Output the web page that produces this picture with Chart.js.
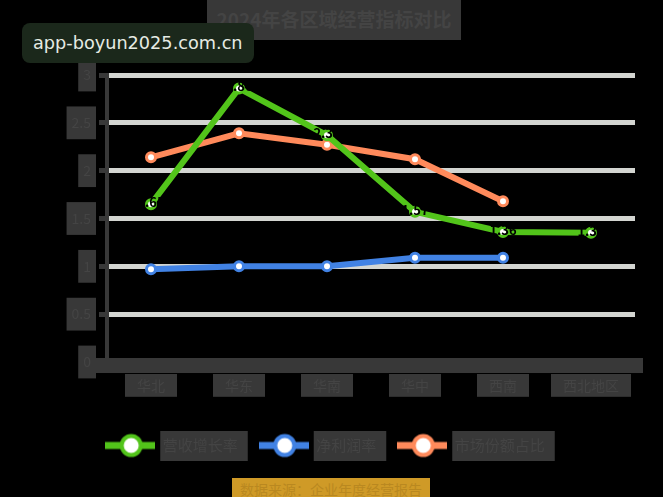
<!DOCTYPE html>
<html><head><meta charset="utf-8">
<script src="https://cdn.jsdelivr.net/npm/chart.js@4.4.1/dist/chart.umd.min.js"></script>
<style>
html,body{margin:0;padding:0;background:#000;}
#wrap{position:relative;width:663px;height:497px;overflow:hidden;background:#000;}
#c{position:absolute;left:0;top:0;}
#title{position:absolute;left:207px;top:0;width:254px;height:40px;background:#383838;color:#444;font:bold 19px "Noto Sans CJK SC",sans-serif;line-height:38px;text-align:center;white-space:nowrap;}
#wm{position:absolute;left:22px;top:23px;width:221px;height:40px;padding-left:11px;border-radius:8px;background:#1b281b;color:#e6ebe4;font:17.7px "DejaVu Sans",sans-serif;line-height:40px;white-space:nowrap;}
#src{position:absolute;left:232px;top:478px;width:198px;height:22px;background:#cf9a27;color:#b98820;font:14px "Noto Sans CJK SC",sans-serif;line-height:22px;text-align:center;white-space:nowrap;}
</style></head>
<body><div id="wrap"><canvas id="c" width="663" height="497"></canvas>
<div id="title"></div>
<div id="wm">app-boyun2025.com.cn</div>
<div id="src">数据来源：企业年度经营报告</div></div>
<script>
const titleText = '2024年各区域经营指标对比';
const categories = ['华北','华东','华南','华中','西南','西北地区'];
const seriesNames = ['营收增长率','净利润率','市场份额占比'];
const greenValues = [1.65, 2.86, 2.37, 1.57, 1.36, 1.35];
const blueValues = [0.97, 1.00, 1.00, 1.09, 1.09, null];
const orangeValues = [2.14, 2.39, 2.27, 2.12, 1.68, null];
const yTicks = {min: 0, max: 3, step: 0.5};

document.getElementById('title').textContent = titleText;

const GREEN = '#52c41a', BLUE = '#4182e4', ORANGE = '#ff8a5b';
const BOX = '#383838', BOXTEXT = '#444444';
const FONT = '"Noto Sans CJK SC","Noto Sans",sans-serif';

function marker(color){
  const c = document.createElement('canvas'); c.width = 50; c.height = 26;
  const x = c.getContext('2d');
  x.strokeStyle = color; x.lineWidth = 7;
  x.beginPath(); x.moveTo(0,13); x.lineTo(50,13); x.stroke();
  x.beginPath(); x.arc(26,13,9.5,0,Math.PI*2); x.fillStyle = '#fff'; x.fill();
  x.lineWidth = 4; x.stroke();
  return c;
}
const markers = [marker(GREEN), marker(BLUE), marker(ORANGE)];

const decor = {
  id: 'decor',
  beforeDraw(chart){
    const ctx = chart.ctx, a = chart.chartArea;
    ctx.save();
    ctx.fillStyle = BOX;
    ctx.fillRect(a.left - 27, a.bottom - 4, a.right - a.left + 35, 15);
    const lg = chart.legend;
    if (lg && lg.legendHitBoxes) {
      lg.legendHitBoxes.forEach(hb => {
        ctx.fillRect(hb.left + 55, hb.top - 7, hb.width - 55 + 10, hb.height + 15);
      });
    }
    ctx.restore();
  },
  afterDatasetsDraw(chart){
    const ctx = chart.ctx;
    const meta = chart.getDatasetMeta(0);
    ctx.save();
    ctx.font = 'bold 13px ' + FONT;
    ctx.fillStyle = '#000';
    ctx.textAlign = 'center'; ctx.textBaseline = 'middle';
    meta.data.forEach((pt, i) => {
      const v = chart.data.datasets[0].data[i];
      if (v != null) ctx.fillText(v.toFixed(2), pt.x, pt.y - 2);
    });
    ctx.restore();
  }
};

function ds(label, data, color){
  return {label, data, borderColor: color, backgroundColor: color, borderWidth: 6,
    pointRadius: 4.5, pointBorderWidth: 3, pointBackgroundColor: '#fff', pointBorderColor: color,
    pointHoverRadius: 4.5, tension: 0, spanGaps: false};
}

new Chart(document.getElementById('c'), {
  type: 'line',
  data: {
    labels: categories,
    datasets: [ds(seriesNames[0], greenValues, GREEN), ds(seriesNames[1], blueValues, BLUE), ds(seriesNames[2], orangeValues, ORANGE)]
  },
  plugins: [decor],
  options: {
    responsive: false, animation: false, devicePixelRatio: 1,
    layout: {padding: {top: 75, left: 15, right: 28, bottom: 34}},
    plugins: {
      title: {display: false},
      legend: {
        position: 'bottom',
        labels: {
          usePointStyle: true, pointStyleWidth: 50, padding: 21, color: BOXTEXT,
          font: {family: FONT, size: 15},
          generateLabels(chart){
            const items = Chart.defaults.plugins.legend.labels.generateLabels(chart);
            items.forEach((it, i) => { it.pointStyle = markers[i]; it.fontColor = BOXTEXT; });
            return items;
          }
        }
      },
      tooltip: {enabled: false}
    },
    scales: {
      x: {
        offset: true,
        grid: {display: false},
        border: {display: false},
        afterFit(s){ s.height = 55; },
        ticks: {color: BOXTEXT, font: {family: FONT, size: 14}, padding: 7, maxRotation: 0, autoSkip: false,
          showLabelBackdrop: true, backdropColor: BOX, backdropPadding: {x: 12, y: 3}}
      },
      y: {
        min: yTicks.min, max: yTicks.max,
        afterFit(s){ s.width = 92; },
        border: {display: true, color: BOX, width: 4},
        grid: {
          color: c => (c.tick && c.tick.value === 0) ? 'rgba(0,0,0,0)' : '#d3d5d1',
          lineWidth: 5, tickColor: BOX, tickWidth: 5, tickLength: 8
        },
        ticks: {stepSize: yTicks.step, color: BOXTEXT, font: {family: FONT, size: 14}, padding: 8,
          callback: v => String(v),
          showLabelBackdrop: true, backdropColor: BOX, backdropPadding: {x: 5, y: 8}}
      }
    }
  }
});
</script></body></html>
